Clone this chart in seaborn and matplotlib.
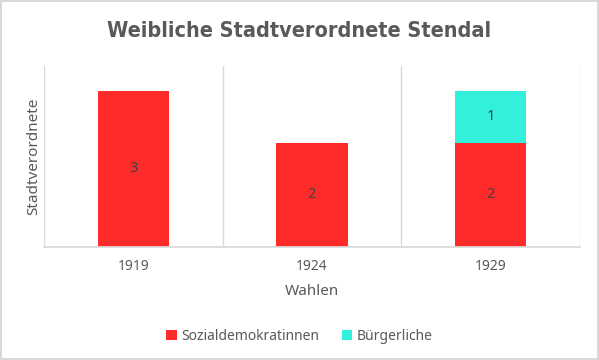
import numpy as np
import pandas as pd
import seaborn as sns
import matplotlib.pyplot as plt
from matplotlib.patches import Patch

years = ["1919", "1924", "1929"]
sozial = [3, 2, 2]
buerger = [0, 0, 1]
series_names = ["Sozialdemokratinnen", "Bürgerliche"]
colors = ["#FF2A2A", "#33F0DC"]

sns.set_theme(style="white")
plt.rcParams['font.family'] = ['Noto Sans', 'DejaVu Sans']

text_grey = "#595959"
line_grey = "#d9d9d9"

totals = np.array(sozial) + np.array(buerger)
df = pd.DataFrame({"Wahl": years, "sozial": sozial, "total": totals})

fig = plt.figure(figsize=(5.99, 3.6), dpi=100)
fig.patch.set_edgecolor(line_grey)
fig.patch.set_linewidth(1.5)
ax = fig.add_axes([0.0735, 0.314, 0.8945, 0.503])

# stacked: total (cyan) behind, red on top
sns.barplot(data=df, x="Wahl", y="total", color=colors[1], width=0.4,
            saturation=1, ax=ax, linewidth=0)
sns.barplot(data=df, x="Wahl", y="sozial", color=colors[0], width=0.4,
            saturation=1, ax=ax, linewidth=0)

ax.bar_label(ax.containers[1], labels=[str(v) for v in sozial],
             label_type="center", color="#404040", fontsize=10.5)
for i, (s, b) in enumerate(zip(sozial, buerger)):
    if b > 0:
        ax.text(i, s + b / 2, str(b), ha="center", va="center",
                color="#404040", fontsize=10.5)

ax.set_xlim(-0.5, len(years) - 0.5)
ax.set_ylim(0, 3.48)
for xv in np.arange(-0.5, len(years), 1.0):
    ax.axvline(xv, color=line_grey, lw=1, zorder=0)
for side in ["top", "right", "left"]:
    ax.spines[side].set_visible(False)
ax.spines["bottom"].set_color(line_grey)
ax.set_yticks([])
ax.tick_params(axis="x", length=0, pad=9, labelsize=10, labelcolor=text_grey)
ax.set_xlabel("Wahlen", fontsize=11, color=text_grey, labelpad=7)
ax.set_ylabel("Stadtverordnete", fontsize=11, color=text_grey, labelpad=2)

fig.text(0.5, 0.913, "Weibliche Stadtverordnete Stendal", ha="center",
         va="center", fontsize=15.5, fontweight="bold", color=text_grey,
         family="DejaVu Sans", fontstretch="condensed")

handles = [Patch(facecolor=c, edgecolor="none") for c in colors]
fig.legend(handles, series_names, loc="center", bbox_to_anchor=(0.5, 0.065),
           ncol=2, frameon=False, fontsize=10, labelcolor=text_grey,
           handlelength=0.75, handleheight=0.75, handletextpad=0.35,
           columnspacing=1.6)

fig.savefig("out.png", dpi=100)
